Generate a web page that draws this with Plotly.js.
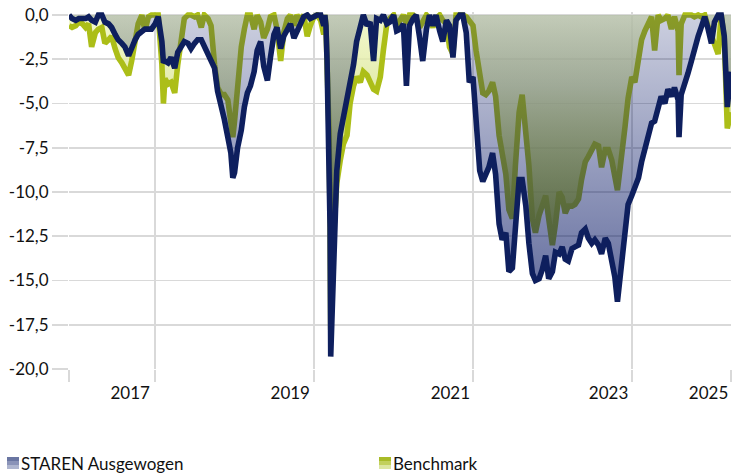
<!DOCTYPE html>
<html><head><meta charset="utf-8">
<script src="https://cdn.plot.ly/plotly-3.0.1.min.js"></script>
<style>html,body{margin:0;padding:0;background:#fff}#chart{width:732px;height:474px}</style>
</head><body><div id="chart"></div>
<script>
const dates = [
'2016-12-01','2016-12-15','2017-01-01','2017-01-15','2017-02-01','2017-02-15','2017-03-01','2017-03-15','2017-04-01','2017-04-15',
'2017-05-01','2017-05-15','2017-06-01','2017-06-15','2017-07-01','2017-07-15','2017-08-01','2017-08-15','2017-09-01','2017-09-15',
'2017-10-01','2017-10-15','2017-11-01','2017-11-15','2017-12-01','2017-12-15','2018-01-01','2018-01-15','2018-02-01','2018-02-08',
'2018-02-15','2018-03-01','2018-03-15','2018-04-01','2018-04-15','2018-05-01','2018-05-15','2018-06-01','2018-06-15','2018-07-01',
'2018-07-15','2018-08-01','2018-08-15','2018-09-01','2018-09-15','2018-10-01','2018-10-15','2018-11-01','2018-11-15','2018-12-01',
'2018-12-15','2018-12-24','2019-01-01','2019-01-15','2019-02-01','2019-02-15','2019-03-01','2019-03-15','2019-04-01','2019-04-15',
'2019-05-01','2019-05-15','2019-06-01','2019-06-15','2019-07-01','2019-07-15','2019-08-01','2019-08-15','2019-09-01','2019-09-15',
'2019-10-01','2019-10-15','2019-11-01','2019-11-15','2019-12-01','2019-12-15','2020-01-01','2020-01-15','2020-02-01','2020-02-15',
'2020-02-20','2020-02-25','2020-03-01','2020-03-05','2020-03-10','2020-03-15','2020-03-18','2020-03-22','2020-03-26','2020-04-01',
'2020-04-08','2020-04-15','2020-05-01','2020-05-15','2020-06-01','2020-06-15','2020-07-01','2020-07-15','2020-08-01','2020-08-15',
'2020-09-01','2020-09-15','2020-10-01','2020-10-15','2020-11-01','2020-11-15','2020-12-01','2020-12-15','2021-01-01','2021-01-15',
'2021-02-01','2021-02-15','2021-03-01','2021-03-15','2021-04-01','2021-04-15','2021-05-01','2021-05-15','2021-06-01','2021-06-15',
'2021-07-01','2021-07-15','2021-08-01','2021-08-15','2021-09-01','2021-09-15','2021-10-01','2021-10-15','2021-11-01','2021-11-15',
'2021-12-01','2021-12-15','2022-01-01','2022-01-15','2022-02-01','2022-02-15','2022-03-01','2022-03-15','2022-04-01','2022-04-15',
'2022-05-01','2022-05-15','2022-06-01','2022-06-15','2022-07-01','2022-07-15','2022-08-01','2022-08-15','2022-09-01','2022-09-15',
'2022-10-01','2022-10-15','2022-11-01','2022-11-15','2022-12-01','2022-12-15','2023-01-01','2023-01-15','2023-02-01','2023-02-15',
'2023-03-01','2023-03-15','2023-04-01','2023-04-15','2023-05-01','2023-05-15','2023-06-01','2023-06-15','2023-07-01','2023-07-15',
'2023-08-01','2023-08-15','2023-09-01','2023-09-15','2023-10-01','2023-10-15','2023-10-27','2023-11-01','2023-11-15','2023-12-01',
'2023-12-15','2024-01-01','2024-01-15','2024-02-01','2024-02-15','2024-03-01','2024-03-15','2024-04-01','2024-04-15','2024-05-01',
'2024-05-15','2024-06-01','2024-06-15','2024-07-01','2024-07-15','2024-08-01','2024-08-05','2024-08-15','2024-09-01','2024-09-15',
'2024-10-01','2024-10-15','2024-11-01','2024-11-15','2024-12-01','2024-12-15','2025-01-01','2025-01-15','2025-02-01','2025-02-15',
'2025-03-01','2025-03-15','2025-04-01'
];
const staren = [
0,-0.2,-0.3,-0.2,-0.2,-0.2,-0.1,-0.3,-0.4,0,
0,-0.4,-0.5,-0.7,-1.1,-1.4,-1.6,-1.8,-2.3,-1.8,
-1.4,-1.1,-0.9,-0.8,-0.8,-0.8,-0.5,-0.1,-1.5,-2.7,
-2.6,-2.7,-2.4,-3.0,-2.1,-1.8,-1.5,-1.6,-1.9,-1.6,
-1.4,-1.4,-1.8,-2.2,-2.5,-3.0,-4.3,-5.4,-5.9,-6.9,
-7.8,-9.2,-8.9,-7.5,-6.5,-5.2,-4.4,-4.0,-3.2,-2.0,
-1.5,-2.9,-3.7,-2.4,-1.1,-0.7,-1.9,-1.2,-0.8,-0.5,
-1.3,-0.9,-0.5,-0.1,0,-0.2,-0.1,0,0,-0.6,
0,-0.6,-2.5,-5.0,-7.0,-12.0,-19.3,-17.5,-16.0,-14.0,
-10.0,-8.8,-6.7,-5.8,-4.9,-3.8,-2.8,-1.5,-0.5,0,
-0.6,-0.4,-2.6,-0.2,-0.3,0,-0.5,-0.4,0,-0.9,
-0.8,-0.5,-4.0,-0.6,-0.2,0,-1.3,-2.6,-0.8,0,
-0.6,0,-0.9,-1.5,-0.3,-0.6,-2.4,-0.3,0,0,
-1.0,-3.8,-3.5,-6.0,-8.8,-9.4,-9.0,-8.6,-7.8,-9.0,
-11.8,-12.7,-12.3,-14.5,-14.3,-11.5,-9.3,-9.3,-10.8,-12.9,
-14.6,-15.0,-14.9,-14.4,-13.6,-14.9,-14.5,-13.4,-13.5,-13.1,
-13.8,-13.9,-13.2,-13.1,-13.0,-12.3,-12.1,-12.6,-12.9,-12.7,
-13.0,-13.5,-12.6,-12.9,-13.9,-14.8,-16.2,-15.6,-14.2,-12.3,
-10.7,-10.2,-9.8,-9.2,-8.3,-7.6,-6.9,-6.1,-6.0,-5.2,
-4.6,-5.0,-4.2,-4.6,-4.1,-4.8,-6.9,-4.5,-3.9,-3.3,
-2.6,-1.9,-1.2,-0.7,-0.1,-0.7,-1.6,-0.4,0,0,
-1.2,-5.2,-3.2
];
const benchmark = [
-0.6,-0.7,-0.6,-0.4,-0.5,-0.7,-0.5,-1.8,-1.0,-0.8,
-0.7,-1.6,-1.4,-1.2,-1.9,-2.4,-2.7,-3.0,-3.4,-2.6,
-1.6,-0.5,0,-0.9,-0.1,0,0,0,-2.8,-5.0,
-3.6,-3.9,-3.8,-4.4,-2.8,-1.5,-0.2,0,0,-0.1,
0,-0.7,0,-0.2,-0.6,-2.8,-4.1,-4.5,-4.5,-4.8,
-5.9,-6.9,-6.0,-4.0,-1.8,-0.8,0,0,-0.8,0,
-0.4,-1.3,-0.8,-0.1,0,-0.8,-2.6,-1.0,-0.2,0,
-0.6,0,-0.3,0,-1.2,-0.6,-0.1,0,-0.3,-1.1,
0,-0.5,-2.5,-4.5,-6.5,-11.5,-17.8,-15.5,-13.5,-12.0,
-10.0,-9.5,-8.2,-7.3,-6.8,-5.0,-4.0,-3.5,-3.8,-3.2,
-3.4,-3.8,-4.2,-4.3,-3.5,-2.0,-0.5,-0.2,0,-0.6,
-0.3,0,-0.5,0,0,-0.2,-0.7,-0.3,0,-0.2,
-0.7,-0.2,0,-0.3,-0.5,-1.8,-2.2,0,0,0,
-0.1,-0.3,-0.6,-2.0,-3.4,-4.4,-4.5,-4.3,-3.8,-4.6,
-6.8,-8.0,-9.0,-11.0,-11.5,-8.5,-5.5,-4.5,-6.5,-8.5,
-11.5,-12.3,-11.3,-10.8,-10.2,-11.5,-13.0,-11.8,-10.0,-10.3,
-11.2,-10.8,-10.8,-10.7,-10.4,-9.3,-8.3,-8.0,-7.7,-7.3,
-7.4,-8.6,-7.6,-7.6,-8.2,-9.2,-9.9,-9.4,-7.6,-6.3,
-4.7,-3.5,-3.8,-2.4,-1.4,-0.9,-0.5,-0.1,-2.0,0,
-0.3,-0.2,0,-0.8,-0.1,-0.9,-3.4,-0.5,0,0,
0,-0.1,0,-0.1,0,-0.6,-1.2,-1.5,-2.2,0,
-1.3,-6.4,-5.5
];
const seriesNames = ['STAREN Ausgewogen', 'Benchmark'];
const yTickVals = [0, -2.5, -5, -7.5, -10, -12.5, -15, -17.5, -20];
const yTickText = ['0,0', '-2,5', '-5,0', '-7,5', '-10,0', '-12,5', '-15,0', '-17,5', '-20,0'];
const yearLabelDates = ['2017-09-08', '2019-09-14', '2021-09-19', '2023-09-16', '2024-12-19'];
const yearLabels = ['2017', '2019', '2021', '2023', '2025'];
const gridDates = ['2016-12-01', '2018-01-01', '2020-01-01', '2022-01-01', '2024-01-01', '2025-04-01'];

const FONT = 'Lato, "Open Sans", sans-serif';
const GRID = '#d9d9d9';
const NAVY = '#0e1f5e';
const OLIVE = 'rgb(172,190,24)';

// plot area in pixels
const PL = 69, PR = 731, PT = 12, PB = 369;
const px = v => (v - PL) / (PR - PL);
const py = v => (PB - v) / (PB - PT);

const traces = [
  {
    type: 'scatter', mode: 'lines', x: dates, y: benchmark, name: seriesNames[1],
    fill: 'tozeroy',
    fillgradient: {type: 'vertical', start: -20, stop: 0,
      colorscale: [[0, 'rgba(136,161,0,0.8)'], [0.4, 'rgba(169,189,0,0.8)'], [0.8, 'rgba(221,231,155,0.8)'], [1, 'rgba(240,248,193,0.8)']]},
    line: {color: OLIVE, width: 5.6, shape: 'linear'}, hoverinfo: 'skip'
  },
  {
    type: 'scatter', mode: 'lines', x: dates, y: staren, name: seriesNames[0],
    fill: 'tozeroy',
    fillgradient: {type: 'vertical', start: -20, stop: 0,
      colorscale: [[0, 'rgba(1,17,97,0.71)'], [1, 'rgba(1,17,97,0.2)']]},
    line: {color: NAVY, width: 5.6, shape: 'linear'}, hoverinfo: 'skip'
  }
];

function strips(x0, x1, y0, y1, colors) {
  const h = (y1 - y0) / colors.length;
  return colors.map((c, i) => ({
    type: 'rect', xref: 'paper', yref: 'paper', layer: 'above',
    x0: px(x0), x1: px(x1), y0: py(y0 + (i + 1) * h), y1: py(y0 + i * h),
    fillcolor: c, line: {width: 0}
  }));
}

const layout = {
  width: 732, height: 474,
  margin: {l: PL, r: 732 - PR, t: PT, b: 474 - PB},
  paper_bgcolor: '#fff', plot_bgcolor: '#fff',
  showlegend: false,
  font: {family: FONT, size: 17, color: '#111'},
  xaxis: {
    type: 'date', range: ['2016-12-01', '2025-04-01'],
    tickmode: 'array', tickvals: yearLabelDates, ticktext: yearLabels,
    ticks: 'outside', ticklen: 9, tickcolor: 'rgba(0,0,0,0)',
    showgrid: false, zeroline: false, showline: false,
    minor: {tickmode: 'array', tickvals: gridDates, ticks: 'outside', ticklen: 12, tickwidth: 1.8,
      tickcolor: GRID, showgrid: true, gridcolor: GRID, gridwidth: 1.8}
  },
  yaxis: {
    range: [-20, 0.17], tickmode: 'array', tickvals: yTickVals, ticktext: yTickText,
    ticks: 'outside', ticklen: 16, tickwidth: 1.8, tickcolor: GRID,
    showgrid: true, gridcolor: GRID, gridwidth: 1.8, zeroline: false, showline: false
  },
  shapes: [
    ...strips(7, 19, 457, 469, ['#6a76a2', '#8a93b8', '#aeb5cf']),
    ...strips(379, 391, 457, 469, ['#a8bb28', '#c2d05c', '#dce6a0'])
  ],
  annotations: [
    {xref: 'paper', yref: 'paper', x: px(19), y: py(463), xanchor: 'left', yanchor: 'middle',
     text: seriesNames[0], showarrow: false, font: {family: FONT, size: 17, color: '#111'}},
    {xref: 'paper', yref: 'paper', x: px(391), y: py(463), xanchor: 'left', yanchor: 'middle',
     text: seriesNames[1], showarrow: false, font: {family: FONT, size: 17, color: '#111'}}
  ]
};

Plotly.newPlot('chart', traces, layout, {staticPlot: true, displayModeBar: false});
</script>
</body></html>
